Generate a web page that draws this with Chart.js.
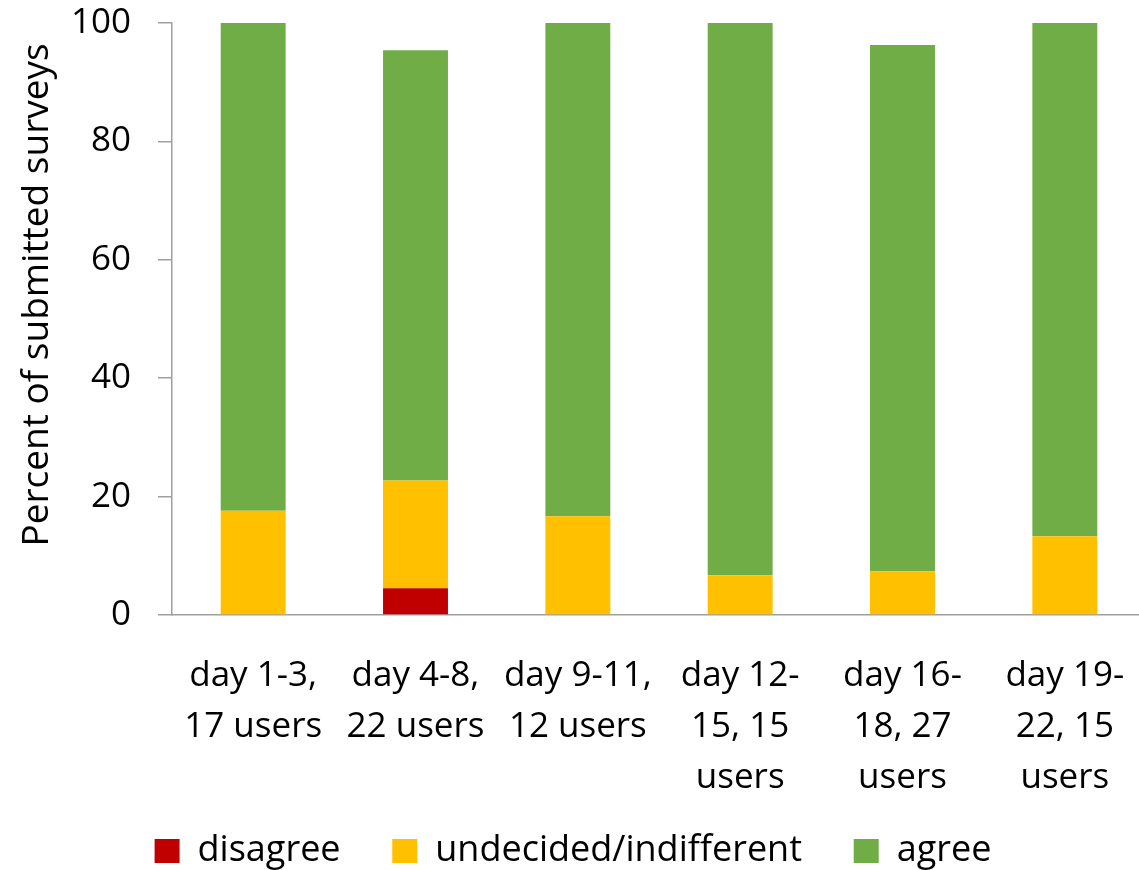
<!DOCTYPE html>
<html lang="en">
<head>
  <meta charset="UTF-8" />
  <title>Survey responses by period</title>
  <script src="https://cdn.jsdelivr.net/npm/chart.js"></script>
  <style>
    html, body {
      margin: 0;
      padding: 0;
      background: #fff;
      overflow: hidden;
    }
    /* the y axis keeps a label gap above its top tick, pull the canvas up to hide it */
    #surveyChart { display: block; margin-top: -25px; }
  </style>
</head>
<body>
  <canvas id="surveyChart" width="1146" height="904"></canvas>
  <script>
    const periods = [
      ['day 1-3,', '17 users'],
      ['day 4-8,', '22 users'],
      ['day 9-11,', '12 users'],
      ['day 12-', '15, 15', 'users'],
      ['day 16-', '18, 27', 'users'],
      ['day 19-', '22, 15', 'users']
    ];
    const disagree = [0, 4.5, 0, 0, 0, 0];
    const undecided = [17.6, 18.2, 16.7, 6.7, 7.4, 13.3];
    const agree = [82.4, 72.7, 83.3, 93.3, 88.9, 86.7];
    const yTicks = [0, 20, 40, 60, 80, 100];

    const axisGrey = '#a0a0a0';
    const font = 'Open Sans';

    new Chart(document.getElementById('surveyChart'), {
      type: 'bar',
      data: {
        labels: periods,
        datasets: [
          { label: 'disagree', data: disagree, backgroundColor: '#c00000', borderWidth: 0 },
          { label: 'undecided/indifferent', data: undecided, backgroundColor: '#ffc000', borderWidth: 0 },
          { label: 'agree', data: agree, backgroundColor: '#70ad47', borderWidth: 0 }
        ]
      },
      options: {
        responsive: false,
        animation: false,
        layout: { padding: 0 },
        datasets: {
          bar: { categoryPercentage: 1, barPercentage: 0.4 }
        },
        scales: {
          x: {
            stacked: true,
            // invisible tick marks push the labels down without eating width
            grid: { drawOnChartArea: false, drawTicks: true, tickLength: 35, color: 'rgba(0,0,0,0)' },
            border: { display: true, color: axisGrey, width: 1.5 },
            ticks: {
              color: '#000',
              padding: 0,
              maxRotation: 0,
              autoSkip: false,
              font: { family: font, size: 35, lineHeight: 1.46 }
            },
            afterFit: scale => { scale.height = 185; }
          },
          y: {
            stacked: true,
            min: 0,
            max: 100,
            afterBuildTicks: scale => { scale.ticks = yTicks.map(v => ({ value: v })); },
            grid: {
              drawOnChartArea: false,
              drawTicks: true,
              tickLength: 14,
              color: axisGrey,
              lineWidth: 1.5
            },
            border: { display: true, color: axisGrey, width: 1.5 },
            ticks: {
              color: '#000',
              padding: 27,
              font: { family: font, size: 35, lineHeight: 1.2 }
            },
            title: {
              display: true,
              // leading spaces lift the title a bit, like the original sits above centre
              text: '     Percent of submitted surveys',
              color: '#000',
              padding: { top: 15, bottom: 0 },
              font: { family: font, size: 37, lineHeight: 1.2 }
            },
            afterFit: scale => { scale.width = 172; }
          }
        },
        plugins: {
          tooltip: { enabled: false },
          legend: {
            position: 'bottom',
            labels: {
              color: '#000',
              boxWidth: 25,
              boxHeight: 24,
              padding: 33,
              font: { family: font, size: 36 },
              generateLabels: chart => {
                const items = Chart.defaults.plugins.legend.labels.generateLabels(chart);
                items.forEach((item, i) => { if (i < items.length - 1) item.text += '  '; });
                return items;
              }
            }
          }
        }
      }
    });
  </script>
</body>
</html>
